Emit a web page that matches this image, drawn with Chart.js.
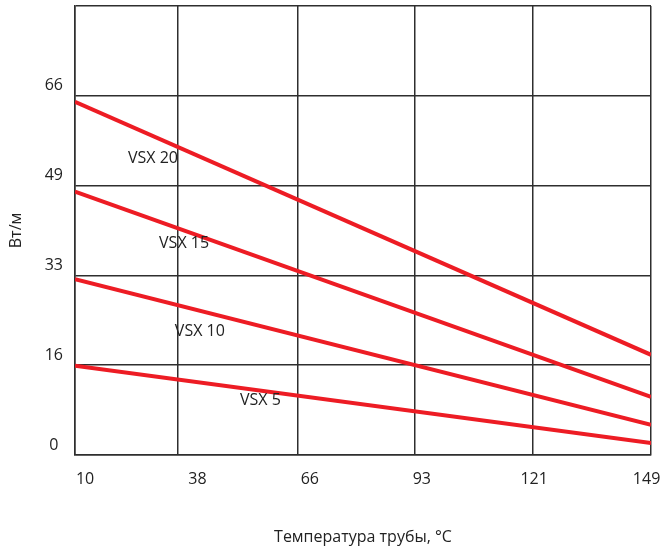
<!DOCTYPE html>
<html>
<head>
<meta charset="utf-8">
<script src="https://cdn.jsdelivr.net/npm/chart.js@4"></script>
<style>
  html,body{margin:0;padding:0;background:#fff}
  #wrap{width:660px;height:549px;position:relative}
</style>
</head>
<body>
<div id="wrap"><canvas id="myChart"></canvas></div>
<script>
// temperatures at the left and right edge of the plot, °C
const pipeTemp = [7.5, 150]
const vsx20 = [64.5, 18.3]
const vsx15 = [48.1, 10.6]
const vsx10 = [32.1, 5.5]
const vsx5 = [16.3, 2.2]
const seriesNames = ['VSX 20', 'VSX 15', 'VSX 10', 'VSX 5']

// x tick labels (50..300 °F in °C), grid lines, y ticks (5 W/ft steps in W/m)
const xTickTemps = [10, 37.8, 65.6, 93.3, 121.1, 148.9]
const xGridTemps = [7.5, 32.9, 62.7, 91.6, 120.8, 150]
const yTicks = [0, 16.4, 32.8, 49.2, 65.6, 82]

// where the series names sit, in data units (temp, W/m)
const nameSpots = [[20.6, 54.2], [28.3, 38.7], [32.2, 22.5], [48.3, 9.9]]

const red = 'rgb(237,28,36)'
const gridCol = '#2e2e2e'
const fontFam = '"Open Sans", "DejaVu Sans", sans-serif'

function pts(vals){
    return pipeTemp.map((t,i)=>({x:t, y:vals[i]}))
}
// keep the edge labels from shrinking the plot
function noEdgePad(s){
    s.paddingTop = 0; s.paddingBottom = 0
    s.paddingLeft = 0; s.paddingRight = 0
}

const ctx = document.getElementById('myChart')

const namesPlugin = {
    id: 'names',
    afterDatasetsDraw(chart){
        const c = chart.ctx
        const xs = chart.scales.x, ys = chart.scales.y
        c.save()
        c.font = '16px ' + fontFam
        c.fillStyle = '#222'
        c.textAlign = 'left'
        c.textBaseline = 'middle'
        seriesNames.forEach((n,i)=>{
            c.fillText(n, xs.getPixelForValue(nameSpots[i][0]), ys.getPixelForValue(nameSpots[i][1]))
        })
        c.restore()
    }
}

let chart = new Chart(ctx, {
    type: 'line',
    data: {
      datasets: [
        {label: seriesNames[0], data: pts(vsx20)},
        {label: seriesNames[1], data: pts(vsx15)},
        {label: seriesNames[2], data: pts(vsx10)},
        {label: seriesNames[3], data: pts(vsx5)}
      ].map(d=>Object.assign(d, {
        borderColor: red, borderWidth: 4, pointRadius: 0, tension: 0, fill: false, xAxisID: 'x', yAxisID: 'y'
      }))
    },
    options: {
      responsive: true,
      maintainAspectRatio: false,
      animation: false,
      layout: {padding: {top: 6, right: 9, left: 0, bottom: 0}},
      plugins: {legend: {display: false}, tooltip: {enabled: false}},
      scales: {
        x: {
          type: 'linear', position: 'bottom', weight: 0,
          min: pipeTemp[0], max: pipeTemp[1],
          afterBuildTicks: s=>{ s.ticks = xGridTemps.map(v=>({value:v})) },
          afterFit: s=>{ s.height = 0; noEdgePad(s) },
          grid: {color: gridCol, lineWidth: 1.5, drawTicks: false},
          border: {display: true, color: gridCol, width: 1.5},
          ticks: {display: false}
        },
        xl: {
          type: 'linear', position: 'bottom', weight: 1,
          min: pipeTemp[0], max: pipeTemp[1],
          afterBuildTicks: s=>{ s.ticks = xTickTemps.map(v=>({value:v})) },
          afterFit: s=>{ s.height = 94; noEdgePad(s) },
          grid: {display: false, drawTicks: false},
          border: {display: false},
          ticks: {
            autoSkip: false, maxRotation: 0, padding: 15,
            color: '#222', font: {family: fontFam, size: 16},
            callback: v=>String(Math.round(v))
          },
          title: {display: true, text: 'Температура трубы, °C', color: '#222',
                  font: {family: fontFam, size: 16}, padding: {top: 0, bottom: 2}}
        },
        y: {
          type: 'linear', min: yTicks[0], max: yTicks[yTicks.length-1],
          afterBuildTicks: s=>{ s.ticks = yTicks.map(v=>({value:v})) },
          afterFit: s=>{ s.width = 75; noEdgePad(s) },
          grid: {color: gridCol, lineWidth: 1.5, drawTicks: false},
          border: {display: true, color: gridCol, width: 1.5},
          ticks: {
            padding: 12, crossAlign: 'center', labelOffset: -10,
            color: '#222', font: {family: fontFam, size: 16},
            callback: v=> v===yTicks[yTicks.length-1] ? '' : String(Math.round(v))
          },
          title: {display: true, text: 'Вт/м', color: '#222',
                  font: {family: fontFam, size: 16}, padding: {top: 7, bottom: 0}}
        }
      }
    },
    plugins: [namesPlugin]
})
</script>
</body>
</html>
